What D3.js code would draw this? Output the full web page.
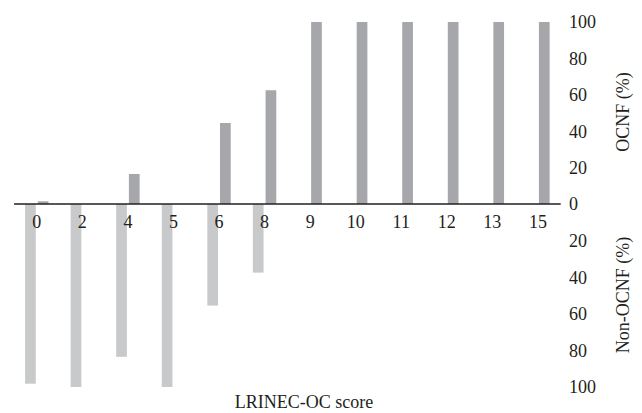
<html>
<head>
<title>LRINEC-OC score</title>
<script src="https://d3js.org/d3.v7.min.js" charset="utf-8"></script>
<style>
body { margin: 0; background: white; }
</style>
</head>
<body>
<script>
// chart data
var scores = ["0", "2", "4", "5", "6", "8", "9", "10", "11", "12", "13", "15"];
var ocnf = [1.5, 0, 16.5, 0, 44.5, 62.5, 100, 100, 100, 100, 100, 100];
var nonOcnf = [98.2, 100, 83.5, 100, 55.5, 37.5, 0, 0, 0, 0, 0, 0];
var ticks = [0, 20, 40, 60, 80, 100];

var width = 642;
var height = 413;
var darkColor = "#a6a7ab";
var lightColor = "#c8c9cb";
var font = "'Liberation Serif', 'Times New Roman', serif";

var svg = d3.select("body")
  .append("svg")
  .attr("width", width)
  .attr("height", height)
  .attr("font-family", font)
  .attr("fill", "#231f20");

var x = d3.scaleBand().domain(scores).range([14, 560.7]);
var yUp = d3.scaleLinear().domain([0, 100]).range([204, 22]);
var yDown = d3.scaleLinear().domain([0, 100]).range([204, 387]);

var barW = 10.7;
var gap = 1;

// non-OCNF bars hang below the line
svg.append("g").selectAll("rect")
  .data(scores)
  .enter()
  .append("rect")
  .attr("x", function(d) { return x(d) + x.bandwidth() / 2 - gap - barW; })
  .attr("y", yDown(0))
  .attr("width", barW)
  .attr("height", function(d, i) { return yDown(nonOcnf[i]) - yDown(0); })
  .attr("fill", lightColor);

// OCNF bars go up
svg.append("g").selectAll("rect")
  .data(scores)
  .enter()
  .append("rect")
  .attr("x", function(d) { return x(d) + x.bandwidth() / 2 + gap; })
  .attr("y", function(d, i) { return yUp(ocnf[i]); })
  .attr("width", barW)
  .attr("height", function(d, i) { return yUp(0) - yUp(ocnf[i]); })
  .attr("fill", darkColor);

// baseline
svg.append("line")
  .attr("x1", 14).attr("x2", 560.7)
  .attr("y1", 204).attr("y2", 204)
  .attr("stroke", "#231f20")
  .attr("stroke-width", 1.3);

// category labels
svg.append("g").selectAll("text")
  .data(scores)
  .enter()
  .append("text")
  .attr("x", function(d) { return x(d) + x.bandwidth() / 2; })
  .attr("y", 222)
  .attr("dy", "0.35em")
  .attr("text-anchor", "middle")
  .attr("font-size", 18)
  .text(function(d) { return d; });

// right side tick labels
svg.append("g").selectAll("text")
  .data(ticks)
  .enter()
  .append("text")
  .attr("x", 569)
  .attr("y", function(d) { return yUp(d); })
  .attr("dy", "0.35em")
  .attr("font-size", 18)
  .text(function(d) { return d; });

svg.append("g").selectAll("text")
  .data(ticks.slice(1))
  .enter()
  .append("text")
  .attr("x", 569)
  .attr("y", function(d) { return yDown(d); })
  .attr("dy", "0.35em")
  .attr("font-size", 18)
  .text(function(d) { return d; });

// axis titles
svg.append("text")
  .attr("transform", "translate(623,112) rotate(-90)")
  .attr("dy", "0.35em")
  .attr("text-anchor", "middle")
  .attr("font-size", 18)
  .text("OCNF (%)");

svg.append("text")
  .attr("transform", "translate(623,295) rotate(-90)")
  .attr("dy", "0.35em")
  .attr("text-anchor", "middle")
  .attr("font-size", 18)
  .text("Non-OCNF (%)");

svg.append("text")
  .attr("x", 304)
  .attr("y", 402)
  .attr("dy", "0.35em")
  .attr("text-anchor", "middle")
  .attr("font-size", 18)
  .text("LRINEC-OC score");
</script>
</body>
</html>
